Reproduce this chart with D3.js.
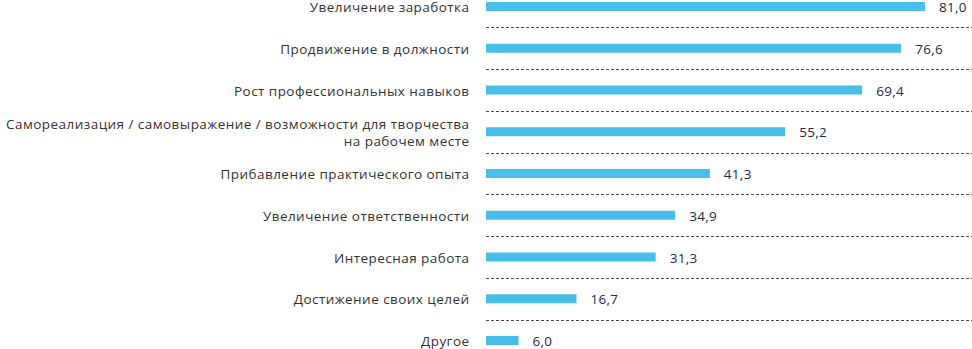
<!DOCTYPE html>
<html><head><meta charset="utf-8">
<script src="https://cdn.jsdelivr.net/npm/d3@7"></script>
<style>
html,body{margin:0;padding:0;background:#fff;}
svg{display:block;}
text{font-family:"Open Sans",Lato,sans-serif;}
</style></head>
<body>
<script>
const categories = [
  ["Увеличение заработка"],
  ["Продвижение в должности"],
  ["Рост профессиональных навыков"],
  ["Самореализация / самовыражение / возможности для творчества", "на рабочем месте"],
  ["Прибавление практического опыта"],
  ["Увеличение ответственности"],
  ["Интересная работа"],
  ["Достижение своих целей"],
  ["Другое"]
];
const values = [81.0, 76.6, 69.4, 55.2, 41.3, 34.9, 31.3, 16.7, 6.0];
const valueLabels = ["81,0", "76,6", "69,4", "55,2", "41,3", "34,9", "31,3", "16,7", "6,0"];

const W = 972, H = 349;
const svg = d3.select("body").append("svg").attr("width", W).attr("height", H);

const ids = categories.map((c, i) => i);
const x = d3.scaleLinear().domain([0, 81]).range([486, 925]);
const y = d3.scaleBand().domain(ids).range([-14.375, 361.375]).padding(0);
const barH = 9;

// dashed separators
const seps = ids.slice(0, -1);
svg.append("g").selectAll("line").data(seps).join("line")
  .attr("x1", 486).attr("x2", W)
  .attr("y1", d => Math.round(y(d) + y.bandwidth()) + 0.5)
  .attr("y2", d => Math.round(y(d) + y.bandwidth()) + 0.5)
  .attr("stroke", "#4a4a4a").attr("stroke-width", 1)
  .attr("stroke-dasharray", "3,2");

// bars
svg.append("g").selectAll("rect").data(ids).join("rect")
  .attr("x", x(0))
  .attr("y", d => y(d) + y.bandwidth() / 2 - barH / 2)
  .attr("width", d => x(values[d]) - x(0))
  .attr("height", barH)
  .attr("fill", "#48bfe8");

// value labels
svg.append("g").selectAll("text").data(ids).join("text")
  .attr("x", d => x(values[d]) + 14)
  .attr("y", d => y(d) + y.bandwidth() / 2 + 1)
  .attr("dy", "0.35em")
  .attr("font-size", 13.5)
  .attr("letter-spacing", 0.3)
  .attr("fill", "#1f2b47")
  .text(d => valueLabels[d]);

// category labels
const lg = svg.append("g").selectAll("text").data(ids).join("text")
  .attr("text-anchor", "end")
  .attr("font-size", 13.5)
  .attr("letter-spacing", 0.45)
  .attr("fill", "#333")
  .attr("y", d => y(d) + y.bandwidth() / 2 + 1 - (categories[d].length - 1) * 8.5)
  .attr("dy", "0.35em");
lg.selectAll("tspan").data(d => categories[d]).join("tspan")
  .attr("x", 469.5)
  .attr("dy", (t, i) => i === 0 ? null : 17)
  .text(t => t);
</script>
</body></html>
